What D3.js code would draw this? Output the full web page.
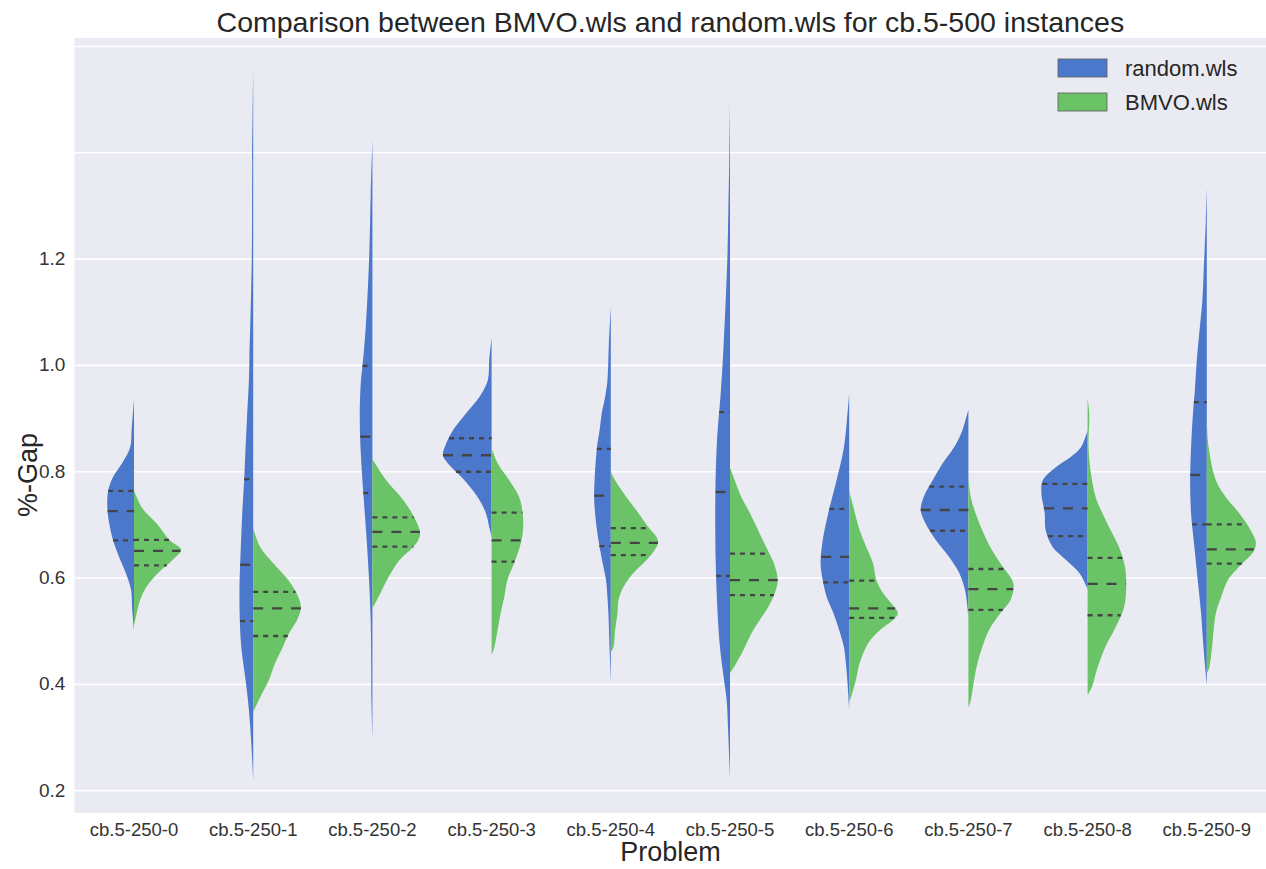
<!DOCTYPE html>
<html>
<head>
<meta charset="utf-8">
<script src="https://cdnjs.cloudflare.com/ajax/libs/d3/7.8.5/d3.min.js"></script>
<style>
  body { margin: 0; background: #ffffff; }
  text { font-family: "Liberation Sans", Arial, sans-serif; }
</style>
</head>
<body>
<script>
// categorias del eje x
var categories = ["cb.5-250-0", "cb.5-250-1", "cb.5-250-2", "cb.5-250-3", "cb.5-250-4",
                  "cb.5-250-5", "cb.5-250-6", "cb.5-250-7", "cb.5-250-8", "cb.5-250-9"];
var seriesNames = ["random.wls", "BMVO.wls"];
var yTickValues = [0.2, 0.4, 0.6, 0.8, 1.0, 1.2];
var gridValues = [0.2, 0.4, 0.6, 0.8, 1.0, 1.2, 1.4, 1.6];

// perfil de densidad [valor, densidad relativa]
var randomProfiles = [
  [[0.934,0],[0.877,0.05],[0.845,0.08],[0.815,0.25],[0.789,0.44],[0.764,0.54],[0.732,0.56],[0.702,0.52],[0.670,0.44],[0.638,0.31],[0.608,0.17],[0.576,0.06],[0.544,0.04],[0.501,0]],
  [[1.551,0],[1.385,0.02],[1.197,0.03],[1.009,0.08],[0.971,0.09],[0.909,0.125],[0.845,0.16],[0.783,0.19],[0.721,0.23],[0.657,0.26],[0.595,0.285],[0.533,0.285],[0.469,0.25],[0.407,0.16],[0.351,0.09],[0.288,0.04],[0.219,0]],
  [[1.423,0],[1.323,0.035],[1.197,0.07],[1.071,0.14],[0.996,0.21],[0.971,0.24],[0.909,0.265],[0.845,0.25],[0.783,0.21],[0.721,0.16],[0.657,0.11],[0.595,0.07],[0.533,0.04],[0.469,0.027],[0.369,0.02],[0.303,0]],
  [[1.050,0],[1.009,0.05],[0.971,0.08],[0.939,0.26],[0.909,0.535],[0.877,0.81],[0.845,0.985],[0.830,1.02],[0.815,0.92],[0.783,0.57],[0.751,0.29],[0.721,0.12],[0.695,0.05],[0.676,0]],
  [[1.109,0],[1.041,0.04],[0.971,0.07],[0.939,0.12],[0.909,0.19],[0.877,0.235],[0.845,0.29],[0.783,0.34],[0.751,0.35],[0.721,0.33],[0.689,0.29],[0.657,0.235],[0.627,0.17],[0.595,0.10],[0.563,0.07],[0.533,0.05],[0.469,0.027],[0.407,0]],
  [[1.493,0],[1.385,0.015],[1.291,0.035],[1.197,0.056],[1.103,0.10],[1.009,0.15],[0.953,0.19],[0.845,0.28],[0.721,0.31],[0.595,0.29],[0.469,0.21],[0.407,0.125],[0.369,0.07],[0.313,0.04],[0.223,0]],
  [[0.946,0],[0.909,0.035],[0.845,0.11],[0.783,0.265],[0.721,0.44],[0.670,0.555],[0.627,0.60],[0.595,0.555],[0.563,0.47],[0.533,0.33],[0.501,0.21],[0.469,0.11],[0.439,0.07],[0.407,0.04],[0.351,0]],
  [[0.916,0],[0.877,0.125],[0.845,0.30],[0.815,0.54],[0.783,0.75],[0.751,0.94],[0.727,1.0],[0.702,0.90],[0.670,0.68],[0.638,0.40],[0.608,0.19],[0.576,0.07],[0.544,0.02],[0.520,0]],
  [[0.877,0],[0.845,0.14],[0.827,0.35],[0.808,0.66],[0.783,0.94],[0.759,0.97],[0.721,0.90],[0.689,0.88],[0.657,0.73],[0.633,0.45],[0.608,0.17],[0.582,0.02],[0.576,0]],
  [[1.333,0],[1.272,0.02],[1.197,0.056],[1.120,0.094],[1.071,0.146],[1.009,0.21],[0.953,0.25],[0.909,0.29],[0.845,0.33],[0.783,0.35],[0.721,0.33],[0.657,0.26],[0.595,0.19],[0.533,0.12],[0.469,0.07],[0.399,0]]
];
var bmvoProfiles = [
  [[0.764,0],[0.732,0.16],[0.702,0.47],[0.670,0.75],[0.652,0.99],[0.633,0.81],[0.608,0.50],[0.582,0.26],[0.557,0.125],[0.533,0.056],[0.510,0]],
  [[0.693,0],[0.657,0.15],[0.627,0.42],[0.595,0.74],[0.563,0.95],[0.542,1.0],[0.520,0.92],[0.495,0.75],[0.469,0.62],[0.439,0.46],[0.407,0.33],[0.375,0.15],[0.347,0]],
  [[0.823,0],[0.783,0.29],[0.751,0.60],[0.721,0.83],[0.685,1.0],[0.670,0.96],[0.657,0.85],[0.633,0.57],[0.601,0.34],[0.571,0.17],[0.542,0]],
  [[0.843,0],[0.815,0.125],[0.783,0.37],[0.751,0.58],[0.721,0.65],[0.689,0.66],[0.657,0.59],[0.627,0.47],[0.595,0.33],[0.563,0.265],[0.533,0.19],[0.501,0.125],[0.469,0.056],[0.454,0]],
  [[0.799,0],[0.783,0.09],[0.751,0.33],[0.721,0.58],[0.695,0.785],[0.676,0.96],[0.665,0.99],[0.652,0.92],[0.633,0.75],[0.608,0.47],[0.582,0.265],[0.557,0.16],[0.533,0.14],[0.501,0.09],[0.469,0.056],[0.460,0]],
  [[0.807,0],[0.783,0.10],[0.751,0.24],[0.721,0.42],[0.689,0.59],[0.657,0.76],[0.627,0.92],[0.595,1.0],[0.571,0.94],[0.544,0.80],[0.520,0.625],[0.495,0.45],[0.469,0.31],[0.445,0.17],[0.420,0]],
  [[0.764,0],[0.721,0.12],[0.689,0.22],[0.657,0.36],[0.627,0.50],[0.595,0.57],[0.571,0.71],[0.544,0.95],[0.533,1.02],[0.520,0.92],[0.501,0.64],[0.477,0.40],[0.439,0.22],[0.407,0.14],[0.375,0.04],[0.365,0]],
  [[0.787,0],[0.751,0.05],[0.721,0.15],[0.689,0.29],[0.657,0.46],[0.627,0.67],[0.595,0.92],[0.582,0.95],[0.557,0.88],[0.533,0.67],[0.501,0.43],[0.469,0.29],[0.439,0.19],[0.407,0.12],[0.369,0.05],[0.355,0]],
  [[0.937,0],[0.909,0.035],[0.845,0.02],[0.796,0.07],[0.751,0.17],[0.721,0.31],[0.689,0.485],[0.657,0.66],[0.620,0.785],[0.582,0.81],[0.544,0.765],[0.507,0.59],[0.469,0.37],[0.431,0.21],[0.394,0.09],[0.379,0]],
  [[0.902,0],[0.845,0.04],[0.783,0.19],[0.751,0.40],[0.721,0.68],[0.689,0.92],[0.665,1.03],[0.646,0.96],[0.627,0.75],[0.595,0.44],[0.563,0.30],[0.533,0.19],[0.469,0.11],[0.430,0.05],[0.420,0]]
];

// cuartiles [q1, mediana, q3]
var randomQuartiles = [
  [0.670,0.725,0.763],[0.518,0.624,0.785],[0.759,0.865,0.998],[0.799,0.830,0.862],[0.659,0.754,0.842],
  [0.603,0.761,0.911],[0.591,0.639,0.729],[0.688,0.727,0.771],[0.678,0.730,0.776],[0.700,0.793,0.930]
];
var bmvoQuartiles = [
  [0.623,0.650,0.671],[0.490,0.542,0.573],[0.658,0.686,0.713],[0.630,0.670,0.722],[0.642,0.665,0.693],
  [0.567,0.595,0.645],[0.524,0.542,0.594],[0.539,0.578,0.616],[0.529,0.588,0.637],[0.626,0.653,0.700]
];

var colors = ["#4c78cc", "#6ac467"];

var W = 1266, H = 869;
var margen = {izquierda: 74.4, derecha: 1266.4, arriba: 38, abajo: 813};

var svg = d3.select("body").append("svg")
    .attr("width", W)
    .attr("height", H);

var x = d3.scaleBand().domain(categories).range([margen.izquierda, margen.derecha]);
var y = d3.scaleLinear().domain([0.157, 1.615]).range([margen.abajo, margen.arriba]);
var w = d3.scaleLinear().domain([0, 1]).range([0, x.bandwidth() * 0.4]);
var plotW = margen.derecha - margen.izquierda;

// fondo del area de grafico
svg.append("rect")
    .attr("x", margen.izquierda).attr("y", margen.arriba)
    .attr("width", plotW).attr("height", margen.abajo - margen.arriba)
    .attr("fill", "#eaeaf2");

// lineas de grilla
var grid = svg.append("g")
    .attr("transform", "translate(" + margen.izquierda + ",0)")
    .call(d3.axisLeft(y).tickValues(gridValues).tickSize(-plotW).tickFormat(""));
grid.select(".domain").remove();
grid.selectAll("line").attr("stroke", "#ffffff").attr("stroke-width", 1.6);

// etiquetas eje y
var yAxis = svg.append("g")
    .attr("transform", "translate(" + (margen.izquierda - 6) + ",0)")
    .call(d3.axisLeft(y).tickValues(yTickValues).tickSize(0).tickFormat(d3.format(".1f")));
yAxis.select(".domain").remove();
yAxis.selectAll("text").attr("font-size", "19px").attr("fill", "#333333")
    .style("font-family", "'Liberation Sans', Arial, sans-serif");

// etiquetas eje x
var xAxis = svg.append("g")
    .attr("transform", "translate(0," + margen.abajo + ")")
    .call(d3.axisBottom(x).tickSize(0).tickPadding(10));
xAxis.select(".domain").remove();
xAxis.selectAll("text").attr("font-size", "18.5px").attr("fill", "#333333")
    .style("font-family", "'Liberation Sans', Arial, sans-serif");

// ancho de la densidad en un valor dado
function widthAt(profile, v) {
    for (var k = 0; k < profile.length - 1; k++) {
        var a = profile[k], b = profile[k + 1];
        if (v <= a[0] && v >= b[0]) {
            var t = (a[0] - v) / (a[0] - b[0]);
            return a[1] + t * (b[1] - a[1]);
        }
    }
    return 0;
}

var violins = svg.append("g");
var inner = svg.append("g");

categories.forEach(function (cat, i) {
    var cx = x(cat) + x.bandwidth() / 2;
    var halves = [
        { profile: randomProfiles[i], quart: randomQuartiles[i], side: -1, color: colors[0] },
        { profile: bmvoProfiles[i], quart: bmvoQuartiles[i], side: 1, color: colors[1] }
    ];
    halves.forEach(function (h) {
        var area = d3.area()
            .curve(d3.curveCatmullRom.alpha(0.5))
            .y(function (d) { return y(d[0]); })
            .x0(cx)
            .x1(function (d) { return cx + h.side * w(d[1]); });
        violins.append("path")
            .attr("d", area(h.profile))
            .attr("fill", h.color);

        h.quart.forEach(function (q, j) {
            var dw = w(widthAt(h.profile, q));
            var x1 = h.side < 0 ? cx - dw : cx;
            var x2 = h.side < 0 ? cx : cx + dw;
            inner.append("line")
                .attr("x1", x1).attr("x2", x2)
                .attr("y1", y(q)).attr("y2", y(q))
                .attr("stroke", "#444444")
                .attr("stroke-width", 2.3)
                .attr("stroke-dasharray", j === 1 ? "10,9" : "5,5");
        });
    });
});

// titulo y etiquetas de ejes
svg.append("text")
    .attr("x", (margen.izquierda + margen.derecha) / 2).attr("y", 32)
    .attr("text-anchor", "middle")
    .attr("font-size", "28.5px").attr("fill", "#262626")
    .text("Comparison between BMVO.wls and random.wls for cb.5-500 instances");

svg.append("text")
    .attr("x", (margen.izquierda + margen.derecha) / 2).attr("y", 861)
    .attr("text-anchor", "middle")
    .attr("font-size", "27px").attr("fill", "#262626")
    .text("Problem");

svg.append("text")
    .attr("transform", "translate(37,475) rotate(-90)")
    .attr("text-anchor", "middle")
    .attr("font-size", "27px").attr("fill", "#262626")
    .text("%-Gap");

// leyenda
var legend = svg.append("g");
seriesNames.forEach(function (name, i) {
    legend.append("rect")
        .attr("x", 1058).attr("y", 59 + i * 34)
        .attr("width", 49).attr("height", 18)
        .attr("fill", colors[i])
        .attr("stroke", "#5a5a5a").attr("stroke-width", 0.8);
    legend.append("text")
        .attr("x", 1125).attr("y", 68 + i * 34)
        .attr("dominant-baseline", "central")
        .attr("font-size", "22px").attr("fill", "#262626")
        .text(name);
});
</script>
</body>
</html>
